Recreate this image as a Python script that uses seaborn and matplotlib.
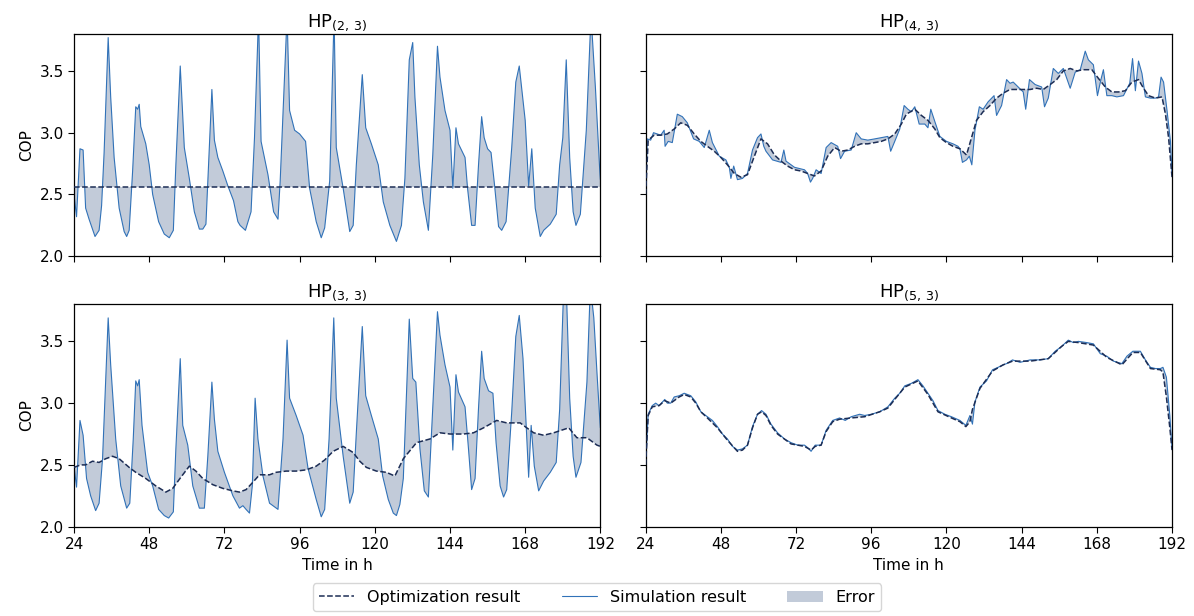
import matplotlib
matplotlib.use("Agg")
import matplotlib.pyplot as plt
import numpy as np
import seaborn as sns
from matplotlib.lines import Line2D
from matplotlib.patches import Patch

# ---- HP(2,3) ----
T_SIM_23 = [
    24.0, 24.8, 25.9, 26.9, 27.7, 28.8, 30.7, 32.0, 32.8, 33.6,
    34.9, 35.7, 36.8, 38.4, 40.0, 40.8, 41.6, 42.7, 43.7, 44.3,
    44.8, 45.3, 46.9, 48.0, 49.1, 51.0, 52.8, 54.4, 55.7, 56.5,
    57.9, 59.2, 60.8, 62.4, 64.0, 65.1, 66.1, 66.7, 68.0, 68.8,
    69.9, 71.5, 73.1, 74.9, 76.3, 77.0, 78.7, 80.5, 81.6, 82.9,
    83.7, 85.9, 87.7, 89.1, 89.8, 92.0, 92.8, 94.4, 96.0, 97.9,
    99.2, 101.3, 102.9, 104.0, 105.6, 107.0, 107.7, 109.9, 112.0, 113.1,
    114.1, 116.0, 117.1, 118.9, 121.1, 122.7, 124.8, 126.9, 128.5, 129.6,
    131.0, 132.1, 132.8, 134.2, 135.5, 137.1, 138.5, 140.0, 140.8, 142.4,
    144.0, 144.9, 145.9, 146.7, 148.8, 149.6, 150.9, 152.0, 153.1, 154.1,
    154.9, 156.0, 157.1, 158.2, 159.5, 160.5, 161.9, 163.7, 165.0, 166.1,
    168.0, 169.1, 170.1, 171.2, 172.8, 173.9, 176.0, 177.9, 179.0, 180.0,
    181.1, 182.2, 183.3, 184.2, 185.6, 187.5, 189.0, 190.4, 191.8, 192.0,
]
SIM_23 = [
    2.50, 2.32, 2.87, 2.86, 2.39, 2.30, 2.16, 2.21, 2.41, 2.84,
    3.77, 3.29, 2.80, 2.39, 2.20, 2.16, 2.21, 2.69, 3.21, 3.19,
    3.23, 3.05, 2.91, 2.74, 2.50, 2.28, 2.18, 2.15, 2.21, 2.74,
    3.54, 2.88, 2.63, 2.36, 2.22, 2.22, 2.26, 2.61, 3.35, 2.94,
    2.80, 2.69, 2.57, 2.45, 2.28, 2.25, 2.21, 2.36, 2.96, 3.95,
    2.93, 2.66, 2.36, 2.30, 2.61, 3.95, 3.18, 3.02, 2.99, 2.93,
    2.55, 2.28, 2.15, 2.23, 2.61, 3.95, 2.88, 2.55, 2.20, 2.25,
    2.74, 3.47, 3.04, 2.91, 2.74, 2.44, 2.25, 2.12, 2.25, 2.63,
    3.59, 3.73, 3.29, 2.74, 2.44, 2.21, 2.82, 3.70, 3.45, 3.18,
    3.02, 2.55, 3.04, 2.91, 2.80, 2.55, 2.25, 2.25, 2.74, 3.13,
    2.96, 2.87, 2.84, 2.58, 2.24, 2.21, 2.28, 2.88, 3.41, 3.54,
    3.10, 2.57, 2.87, 2.39, 2.16, 2.21, 2.26, 2.34, 2.74, 2.96,
    3.59, 2.80, 2.36, 2.25, 2.34, 3.02, 3.95, 3.37, 2.69, 2.62,
]
T_OPT_23 = [24.0, 192.0]
OPT_23 = [2.56, 2.56]

# ---- HP(3,3) ----
T_SIM_33 = [
    24.0, 24.8, 25.9, 26.9, 28.0, 29.3, 30.9, 32.0, 33.1, 34.9,
    35.7, 37.3, 38.9, 40.8, 41.8, 42.9, 43.7, 44.3, 44.8, 45.7,
    47.5, 49.1, 51.0, 52.8, 54.2, 55.7, 56.5, 57.9, 58.7, 60.3,
    61.9, 64.0, 65.6, 66.7, 68.0, 68.8, 69.9, 72.0, 74.7, 76.8,
    77.9, 78.9, 80.0, 80.9, 81.8, 82.7, 84.3, 86.4, 89.1, 90.7,
    92.0, 92.8, 94.9, 97.1, 98.7, 101.3, 102.9, 104.0, 105.4, 106.9,
    107.7, 109.9, 112.0, 113.1, 114.1, 116.0, 117.1, 118.9, 121.1, 122.5,
    124.3, 125.9, 126.9, 128.0, 129.1, 131.0, 132.1, 133.1, 134.4, 135.8,
    137.1, 138.1, 140.0, 140.8, 142.4, 144.0, 144.9, 145.9, 146.7, 148.8,
    149.9, 150.9, 152.0, 153.1, 154.1, 154.9, 156.3, 157.7, 158.7, 160.0,
    161.1, 162.1, 163.7, 165.0, 166.1, 167.3, 169.1, 169.9, 170.9, 172.3,
    173.9, 176.0, 177.9, 179.0, 180.3, 181.1, 182.2, 183.3, 184.2, 185.8,
    187.7, 188.8, 189.9, 190.9, 191.8, 192.0,
]
SIM_33 = [
    2.49, 2.32, 2.86, 2.74, 2.39, 2.25, 2.13, 2.19, 2.55, 3.69,
    3.31, 2.71, 2.33, 2.15, 2.19, 2.71, 3.18, 3.14, 3.19, 2.82,
    2.44, 2.33, 2.14, 2.09, 2.07, 2.12, 2.63, 3.36, 2.82, 2.66,
    2.33, 2.15, 2.15, 2.57, 3.17, 2.87, 2.61, 2.44, 2.25, 2.15,
    2.17, 2.14, 2.11, 2.33, 3.04, 2.71, 2.41, 2.19, 2.14, 2.71,
    3.51, 3.04, 2.90, 2.74, 2.47, 2.22, 2.08, 2.14, 2.71, 3.69,
    3.04, 2.57, 2.19, 2.28, 2.76, 3.62, 3.06, 2.90, 2.71, 2.41,
    2.22, 2.11, 2.09, 2.18, 2.39, 3.68, 3.20, 3.17, 2.63, 2.29,
    2.24, 2.76, 3.74, 3.55, 3.31, 3.13, 2.62, 3.23, 3.09, 2.97,
    2.63, 2.30, 2.39, 2.96, 3.42, 3.20, 3.10, 3.08, 2.68, 2.33,
    2.24, 2.30, 2.93, 3.54, 3.71, 3.36, 2.40, 2.82, 2.49, 2.29,
    2.37, 2.44, 2.52, 2.95, 3.95, 3.95, 3.04, 2.57, 2.40, 2.52,
    3.17, 3.95, 3.69, 3.25, 2.87, 2.80,
]
T_OPT_33 = [
    24.0, 26.1, 27.7, 29.9, 32.0, 34.1, 36.3, 38.4, 41.6, 43.7,
    46.9, 50.1, 53.3, 55.5, 58.1, 60.8, 62.9, 65.1, 68.3, 71.5,
    74.7, 76.8, 78.9, 81.1, 83.2, 86.4, 88.5, 91.7, 94.9, 98.1,
    101.3, 104.0, 106.7, 109.9, 113.1, 115.2, 117.3, 120.5, 123.7, 126.4,
    129.1, 133.3, 137.6, 140.8, 144.0, 148.3, 151.5, 154.7, 158.9, 162.1,
    166.4, 168.5, 170.7, 173.9, 177.1, 181.9, 184.5, 187.7, 190.9, 192.0,
]
OPT_33 = [
    2.48, 2.50, 2.50, 2.53, 2.52, 2.55, 2.57, 2.55, 2.48, 2.44,
    2.39, 2.33, 2.28, 2.31, 2.40, 2.49, 2.45, 2.39, 2.34, 2.31,
    2.29, 2.28, 2.30, 2.36, 2.42, 2.42, 2.44, 2.45, 2.45, 2.46,
    2.49, 2.54, 2.61, 2.65, 2.60, 2.53, 2.48, 2.45, 2.44, 2.41,
    2.55, 2.68, 2.71, 2.76, 2.75, 2.75, 2.76, 2.80, 2.86, 2.84,
    2.84, 2.80, 2.76, 2.74, 2.76, 2.80, 2.72, 2.72, 2.66, 2.65,
]

# ---- HP(4,3) ----
T_SIM_43 = [
    24.0, 24.5, 25.6, 26.5, 27.7, 28.8, 29.9, 30.2, 31.2, 32.5,
    34.1, 35.7, 37.3, 39.3, 41.1, 42.7, 44.3, 45.3, 47.5, 49.6,
    50.7, 51.2, 52.1, 53.3, 54.9, 56.5, 58.1, 59.7, 60.8, 61.7,
    62.4, 64.5, 67.2, 68.1, 68.8, 71.5, 74.7, 75.7, 76.6, 77.3,
    78.4, 80.0, 81.6, 83.2, 85.3, 86.2, 87.5, 89.6, 91.2, 92.8,
    94.9, 97.1, 99.2, 101.3, 102.2, 103.5, 105.1, 106.5, 107.7, 108.8,
    109.9, 111.3, 113.1, 114.1, 115.0, 116.3, 117.9, 120.0, 122.1, 123.7,
    124.3, 125.1, 126.4, 127.3, 128.1, 129.1, 130.5, 131.7, 133.3, 135.2,
    136.0, 137.6, 139.2, 140.3, 141.3, 142.9, 144.5, 145.3, 146.5, 148.3,
    150.4, 151.3, 152.5, 154.1, 155.7, 157.3, 159.5, 161.1, 162.7, 164.3,
    165.3, 166.9, 168.2, 169.3, 170.1, 171.2, 172.8, 174.4, 176.5, 178.5,
    179.4, 180.3, 181.3, 182.4, 183.5, 185.1, 186.7, 187.7, 188.5, 189.3,
    190.4, 191.5, 192.0,
]
SIM_43 = [
    2.50, 2.95, 2.94, 3.00, 2.99, 2.98, 3.02, 2.89, 2.93, 2.92,
    3.15, 3.13, 3.08, 2.95, 2.93, 2.88, 3.02, 2.92, 2.81, 2.78,
    2.72, 2.63, 2.73, 2.62, 2.63, 2.67, 2.86, 2.96, 2.99, 2.89,
    2.85, 2.78, 2.76, 2.86, 2.77, 2.72, 2.70, 2.67, 2.60, 2.63,
    2.70, 2.67, 2.88, 2.92, 2.89, 2.79, 2.85, 2.86, 3.00, 2.95,
    2.94, 2.95, 2.96, 2.97, 2.85, 2.93, 3.03, 3.22, 3.19, 3.17,
    3.21, 3.07, 3.07, 3.04, 3.19, 3.09, 2.97, 2.93, 2.91, 2.89,
    2.87, 2.76, 2.78, 2.81, 2.74, 3.02, 3.21, 3.19, 3.25, 3.30,
    3.14, 3.22, 3.43, 3.40, 3.41, 3.37, 3.33, 3.19, 3.43, 3.39,
    3.37, 3.21, 3.28, 3.52, 3.48, 3.52, 3.36, 3.49, 3.51, 3.66,
    3.59, 3.55, 3.30, 3.43, 3.51, 3.30, 3.30, 3.29, 3.30, 3.40,
    3.60, 3.34, 3.58, 3.48, 3.29, 3.28, 3.28, 3.29, 3.45, 3.41,
    3.18, 2.93, 2.66,
]
T_OPT_43 = [
    24.0, 24.8, 26.7, 28.8, 30.9, 33.1, 35.2, 37.3, 39.5, 41.6,
    43.7, 45.9, 48.0, 50.1, 52.3, 54.4, 56.5, 58.7, 60.8, 62.9,
    65.1, 67.2, 69.3, 71.5, 73.6, 75.7, 77.9, 80.0, 82.1, 84.3,
    86.4, 88.5, 90.7, 92.8, 94.9, 97.1, 99.2, 101.3, 103.5, 105.6,
    107.2, 109.9, 112.0, 114.1, 116.3, 117.9, 120.0, 122.1, 124.3, 126.4,
    128.0, 129.6, 131.7, 133.9, 136.0, 138.1, 140.3, 142.4, 144.5, 146.7,
    148.8, 150.9, 153.1, 155.2, 157.3, 159.5, 161.6, 163.7, 166.4, 168.5,
    170.7, 172.8, 174.9, 177.1, 179.2, 181.3, 182.9, 184.5, 186.7, 188.8,
    189.9, 190.9, 192.0,
]
OPT_43 = [
    2.50, 2.94, 2.98, 2.98, 2.99, 3.03, 3.08, 3.06, 2.99, 2.93,
    2.89, 2.85, 2.80, 2.74, 2.67, 2.64, 2.66, 2.81, 2.95, 2.91,
    2.82, 2.77, 2.73, 2.70, 2.69, 2.67, 2.65, 2.69, 2.81, 2.88,
    2.85, 2.86, 2.89, 2.91, 2.91, 2.92, 2.93, 2.95, 2.99, 3.07,
    3.15, 3.19, 3.14, 3.10, 3.03, 2.96, 2.92, 2.89, 2.87, 2.82,
    2.96, 3.10, 3.17, 3.22, 3.28, 3.32, 3.35, 3.35, 3.35, 3.35,
    3.36, 3.35, 3.39, 3.43, 3.50, 3.52, 3.50, 3.51, 3.51, 3.44,
    3.37, 3.33, 3.33, 3.34, 3.41, 3.43, 3.36, 3.30, 3.28, 3.29,
    3.15, 2.96, 2.64,
]

# ---- HP(5,3) ----
T_SIM_53 = [
    24.0, 24.8, 26.1, 27.2, 28.3, 30.1, 30.9, 32.0, 33.1, 34.7,
    36.3, 38.4, 40.0, 41.6, 43.7, 45.3, 46.9, 48.5, 50.1, 51.7,
    53.3, 54.9, 56.5, 58.1, 59.7, 61.0, 62.4, 64.0, 66.1, 68.3,
    70.4, 72.5, 74.7, 75.7, 76.8, 78.1, 80.0, 81.6, 83.7, 85.9,
    87.7, 89.6, 92.3, 93.9, 96.0, 98.7, 101.3, 103.5, 105.1, 106.7,
    108.8, 110.9, 112.5, 114.1, 115.7, 117.3, 119.5, 121.6, 124.3, 126.2,
    127.5, 128.3, 129.1, 130.7, 132.8, 134.7, 136.5, 138.1, 139.2, 141.1,
    143.5, 146.7, 149.9, 152.5, 154.7, 156.8, 158.9, 160.5, 162.1, 164.8,
    166.9, 169.1, 171.2, 173.3, 176.0, 177.6, 179.5, 181.9, 183.5, 185.1,
    186.7, 188.3, 189.1, 190.2, 191.3, 192.0,
]
SIM_53 = [
    2.51, 2.91, 2.98, 3.00, 2.98, 3.03, 3.00, 3.00, 3.05, 3.06,
    3.08, 3.06, 3.01, 2.93, 2.89, 2.86, 2.81, 2.75, 2.71, 2.65,
    2.62, 2.63, 2.66, 2.81, 2.91, 2.94, 2.91, 2.83, 2.76, 2.71,
    2.68, 2.66, 2.66, 2.64, 2.61, 2.66, 2.66, 2.78, 2.86, 2.88,
    2.86, 2.89, 2.91, 2.90, 2.91, 2.93, 2.97, 3.04, 3.08, 3.14,
    3.16, 3.19, 3.14, 3.08, 3.02, 2.94, 2.91, 2.89, 2.86, 2.82,
    2.90, 2.83, 3.01, 3.13, 3.18, 3.27, 3.29, 3.31, 3.32, 3.35,
    3.33, 3.35, 3.35, 3.36, 3.42, 3.46, 3.51, 3.49, 3.50, 3.49,
    3.48, 3.40, 3.38, 3.34, 3.32, 3.38, 3.42, 3.42, 3.35, 3.29,
    3.28, 3.28, 3.29, 3.21, 2.90, 2.63,
]
T_OPT_53 = [
    24.0, 24.8, 26.1, 28.3, 30.1, 32.0, 34.7, 36.3, 38.4, 40.0,
    41.6, 43.7, 46.9, 50.1, 53.3, 54.9, 56.5, 58.1, 59.7, 61.0,
    62.4, 64.0, 66.1, 70.4, 74.7, 76.8, 78.1, 80.0, 81.6, 83.7,
    85.9, 89.6, 93.9, 98.7, 101.3, 103.5, 106.7, 110.9, 114.1, 117.3,
    121.6, 124.3, 126.2, 127.5, 128.3, 130.7, 134.7, 138.1, 141.1, 146.7,
    152.5, 156.8, 158.9, 162.1, 166.9, 171.2, 176.0, 179.5, 181.9, 185.1,
    188.3, 189.1, 190.2, 191.3, 192.0,
]
OPT_53 = [
    2.50, 2.90, 2.97, 2.98, 3.02, 3.00, 3.05, 3.07, 3.05, 3.00,
    2.93, 2.88, 2.80, 2.70, 2.61, 2.62, 2.66, 2.80, 2.91, 2.93,
    2.90, 2.82, 2.75, 2.67, 2.65, 2.62, 2.65, 2.66, 2.77, 2.85,
    2.87, 2.88, 2.89, 2.93, 2.96, 3.03, 3.13, 3.18, 3.07, 2.93,
    2.88, 2.85, 2.81, 2.85, 2.95, 3.12, 3.26, 3.31, 3.34, 3.34,
    3.36, 3.46, 3.50, 3.49, 3.47, 3.37, 3.31, 3.41, 3.41, 3.28,
    3.27, 3.25, 3.05, 2.80, 2.62,
]

TITLES = ["HP$_{(2,\\,3)}$", "HP$_{(4,\\,3)}$", "HP$_{(3,\\,3)}$", "HP$_{(5,\\,3)}$"]
X_TICKS = [24, 48, 72, 96, 120, 144, 168, 192]
Y_TICKS = [2.0, 2.5, 3.0, 3.5]

SIM_COLOR = "#3172b8"
OPT_COLOR = "#1c2d55"
ERR_COLOR = "#c2cbd9"

sns.set_theme(style="ticks", rc={
    "text.color": "black", "axes.labelcolor": "black",
    "xtick.color": "black", "ytick.color": "black", "axes.edgecolor": "black",
})
plt.rcParams["font.family"] = ["DejaVu Sans"]

fig, axes = plt.subplots(2, 2, figsize=(11.94, 6.16), dpi=100, sharex=True, sharey=True)
fig.subplots_adjust(left=0.062, right=0.9816, top=0.945, bottom=0.145, wspace=0.086, hspace=0.216)

panels = [
    (axes[0, 0], T_SIM_23, SIM_23, T_OPT_23, OPT_23),
    (axes[0, 1], T_SIM_43, SIM_43, T_OPT_43, OPT_43),
    (axes[1, 0], T_SIM_33, SIM_33, T_OPT_33, OPT_33),
    (axes[1, 1], T_SIM_53, SIM_53, T_OPT_53, OPT_53),
]

for (ax, ts, sim, to, opt), title in zip(panels, TITLES):
    ts, sim, to, opt = map(np.asarray, (ts, sim, to, opt))
    # error area between the simulated and optimised curve
    ax.fill(np.r_[ts, to[::-1]], np.r_[sim, opt[::-1]], color=ERR_COLOR, lw=0, zorder=1)
    sns.lineplot(x=ts, y=sim, ax=ax, color=SIM_COLOR, lw=0.8, zorder=2)
    sns.lineplot(x=to, y=opt, ax=ax, color=OPT_COLOR, lw=1.1, linestyle="--", zorder=3)
    ax.set_title(title, fontsize=13, pad=5, color="black")
    ax.set_xlim(24, 192)
    ax.set_ylim(2.0, 3.8)
    ax.set_xticks(X_TICKS)
    ax.set_yticks(Y_TICKS)
    ax.tick_params(labelsize=11, length=4, width=0.8, color="black")
    for sp in ax.spines.values():
        sp.set_color("black")
        sp.set_linewidth(0.9)
    ax.set_xlabel("")
    ax.set_ylabel("")

for ax in axes[:, 0]:
    ax.set_ylabel("COP", fontsize=11)
for ax in axes[1, :]:
    ax.set_xlabel("Time in h", fontsize=11)

handles = [
    Line2D([], [], color=OPT_COLOR, lw=1.1, linestyle="--"),
    Line2D([], [], color=SIM_COLOR, lw=0.8),
    Patch(facecolor=ERR_COLOR, edgecolor="none"),
]
fig.legend(handles, ["Optimization result", "Simulation result", "Error"],
           loc="lower center", bbox_to_anchor=(0.5, -0.005), ncol=3, fontsize=11.5,
           frameon=True, fancybox=True, columnspacing=2.6, handlelength=2.2)

fig.savefig("out.png", dpi=100)
